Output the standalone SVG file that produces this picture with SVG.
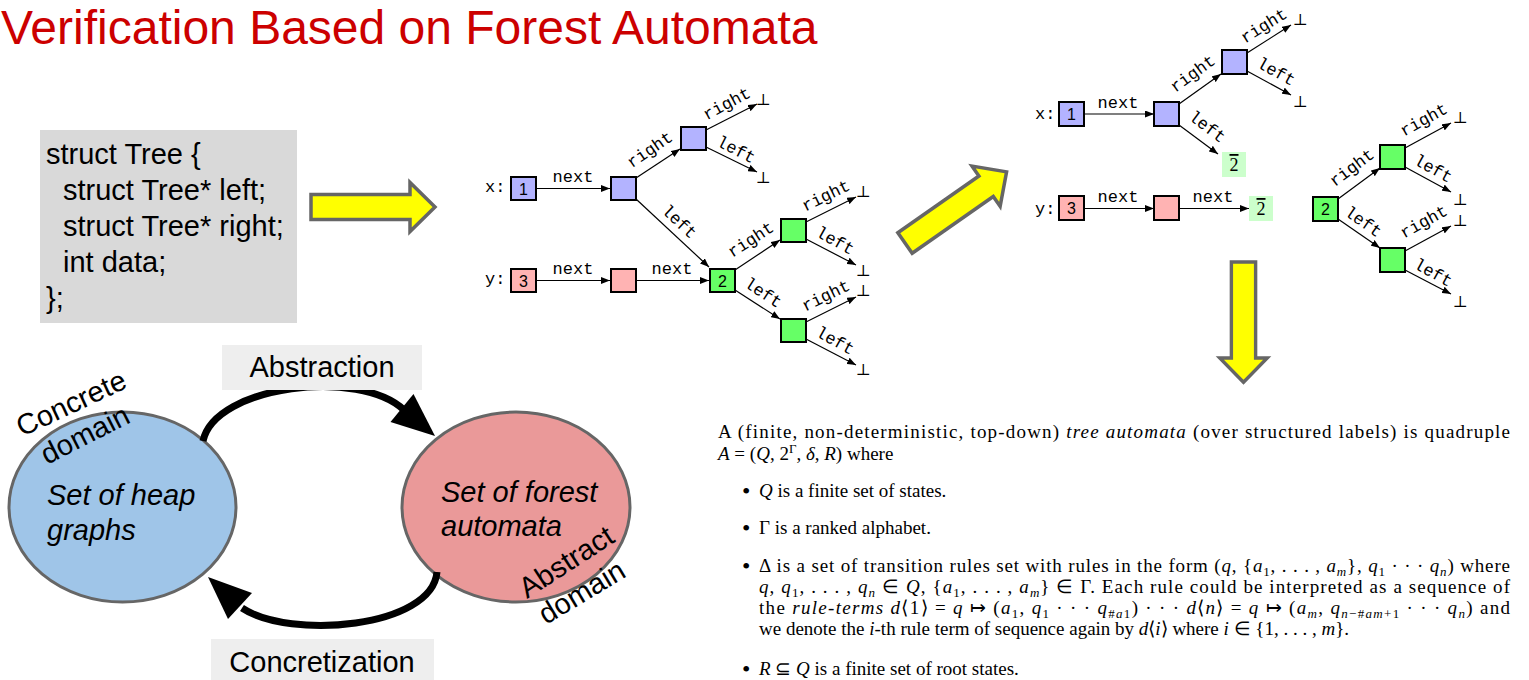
<svg xmlns="http://www.w3.org/2000/svg" width="1529" height="680" viewBox="0 0 1529 680">
  <style>
    .title { font-family: "Liberation Sans", Arial, sans-serif; font-size: 48px; fill: #cc0000; }
    .code { font-family: "Liberation Sans", Arial, sans-serif; font-size: 29px; fill: #000; }
    .fat { fill: #ffff00; stroke: #666666; stroke-width: 3.5; stroke-linejoin: miter; }
    .box { stroke: #000; stroke-width: 2; }
    .blue { fill: #b3b3ff; }
    .pink { fill: #ffb3b3; }
    .green { fill: #66ff66; }
    .lg { fill: #ccffcc; }
    .edge { stroke: #000; stroke-width: 1.2; fill: none; marker-end: url(#ah); }
    .tt { font-family: "Liberation Mono", "DejaVu Sans Mono", monospace; font-size: 17px; fill: #000; }
    .num { font-family: "Liberation Sans", Arial, sans-serif; font-size: 16px; fill: #000; text-anchor: middle; }
    .bar { font-family: "Liberation Serif", "Times New Roman", serif; font-size: 18px; fill: #000; text-anchor: middle; text-decoration: overline; }
    .bot { font-family: "DejaVu Serif", serif; font-size: 16px; fill: #000; text-anchor: middle; }
    .mid { text-anchor: middle; }
    .sans { font-family: "Liberation Sans", Arial, sans-serif; font-size: 29px; fill: #000; }
    .it { font-style: italic; }
    .tag { fill: #eeeeee; }
    .arc { stroke: #000; stroke-width: 7; fill: none; }
    .tex { font-family: "Liberation Serif", "Times New Roman", serif; font-size: 19px; fill: #000; }
    .dot { font-size: 24px; }
    .m { font-style: italic; }
    .sb { font-size: 13px; baseline-shift: -4px; }
    .sp { font-size: 13px; baseline-shift: 7px; }
  </style>
  <defs>
    <marker id="ah" markerUnits="userSpaceOnUse" markerWidth="9" markerHeight="7" refX="9" refY="3.5" orient="auto">
      <path d="M0,0 L9,3.5 L0,7 Z" fill="#000"/>
    </marker>
    <path id="fat" d="M0,-12.5 H99 V-24.5 L124,0 L99,24.5 V12.5 H0 Z"/>
  </defs>

  <!-- heading -->
  <text class="title" x="1" y="44">Verification Based on Forest Automata</text>

  <!-- C structure declaration -->
  <g id="code">
    <rect x="40" y="130" width="257" height="193" fill="#d9d9d9"/>
    <text class="code" x="46" y="164">struct Tree {</text>
    <text class="code" x="63" y="200">struct Tree* left;</text>
    <text class="code" x="63" y="236">struct Tree* right;</text>
    <text class="code" x="63" y="272">int data;</text>
    <text class="code" x="46" y="308">};</text>
  </g>

  <!-- block arrows -->
  <g id="flow">
    <use href="#fat" class="fat" transform="translate(311,207)"/>
    <use href="#fat" class="fat" transform="translate(905,243) rotate(-35)"/>
    <use href="#fat" class="fat" transform="translate(1243.5,262) rotate(90) scale(0.97,0.97)"/>
  </g>

  <!-- heap graph -->
  <g id="heap">
    <text class="tt" x="485" y="192">x:</text>
    <text class="tt" x="485" y="284">y:</text>
    <g id="h-n1"><rect class="box blue" x="511" y="177" width="25" height="23"/><text class="num" x="523.5" y="194.5">1</text></g>
    <g id="h-b1"><rect class="box blue" x="611" y="177" width="25" height="23"/></g>
    <g id="h-b2"><rect class="box blue" x="681" y="127" width="25" height="23"/></g>
    <g id="h-n3"><rect class="box pink" x="511" y="269" width="25" height="23"/><text class="num" x="523.5" y="286.5">3</text></g>
    <g id="h-p1"><rect class="box pink" x="611" y="269" width="25" height="23"/></g>
    <g id="h-n2"><rect class="box green" x="710" y="269" width="25" height="23"/><text class="num" x="722.5" y="286.5">2</text></g>
    <g id="h-g1"><rect class="box green" x="781" y="219" width="25" height="23"/></g>
    <g id="h-g2"><rect class="box green" x="781" y="319" width="25" height="23"/></g>
    <g id="h-nil">
      <text class="bot" x="763" y="105">⊥</text>
      <text class="bot" x="763" y="183">⊥</text>
      <text class="bot" x="863" y="197">⊥</text>
      <text class="bot" x="863" y="276">⊥</text>
      <text class="bot" x="863" y="296">⊥</text>
      <text class="bot" x="863" y="375">⊥</text>
    </g>
  </g>
  <g id="heap-edges">
    <line class="edge" x1="536" y1="188.5" x2="610" y2="188.5"/>
    <text class="tt mid" x="573" y="182">next</text>
    <line class="edge" x1="636" y1="178" x2="680" y2="149"/>
    <text class="tt mid" transform="translate(650,150) rotate(-34.6)" y="5">right</text>
    <line class="edge" x1="636" y1="199" x2="709" y2="267"/>
    <text class="tt mid" transform="translate(679,222) rotate(43)" y="5">left</text>
    <line class="edge" x1="706" y1="130" x2="757" y2="104"/>
    <text class="tt mid" transform="translate(727,104) rotate(-28)" y="5">right</text>
    <line class="edge" x1="706" y1="147" x2="757" y2="172"/>
    <text class="tt mid" transform="translate(736,150) rotate(27)" y="5">left</text>
    <line class="edge" x1="536" y1="280.5" x2="610" y2="280.5"/>
    <text class="tt mid" x="573" y="274">next</text>
    <line class="edge" x1="636" y1="280.5" x2="709" y2="280.5"/>
    <text class="tt mid" x="672" y="274">next</text>
    <line class="edge" x1="735" y1="270" x2="780" y2="240"/>
    <text class="tt mid" transform="translate(751,240) rotate(-33)" y="5">right</text>
    <line class="edge" x1="735" y1="290" x2="780" y2="319"/>
    <text class="tt mid" transform="translate(763,293) rotate(33)" y="5">left</text>
    <line class="edge" x1="806" y1="222" x2="856" y2="197"/>
    <text class="tt mid" transform="translate(826,196) rotate(-26)" y="5">right</text>
    <line class="edge" x1="806" y1="239" x2="856" y2="265"/>
    <text class="tt mid" transform="translate(835,241) rotate(29)" y="5">left</text>
    <line class="edge" x1="806" y1="322" x2="856" y2="297"/>
    <text class="tt mid" transform="translate(826,296) rotate(-26)" y="5">right</text>
    <line class="edge" x1="806" y1="339" x2="856" y2="365"/>
    <text class="tt mid" transform="translate(835,341) rotate(29)" y="5">left</text>
  </g>

  <!-- forest automaton: split into trees -->
  <g id="forest">
    <text class="tt" x="1035" y="119">x:</text>
    <text class="tt" x="1035" y="214">y:</text>
    <g id="f-n1"><rect class="box blue" x="1059" y="102" width="25" height="24"/><text class="num" x="1071.5" y="120">1</text></g>
    <g id="f-b1"><rect class="box blue" x="1154" y="102" width="25" height="24"/></g>
    <g id="f-b2"><rect class="box blue" x="1222" y="50" width="25" height="24"/></g>
    <g id="f-r1"><rect class="lg" x="1222" y="152" width="24" height="25"/><text class="bar" x="1234" y="171">2</text></g>
    <g id="f-n3"><rect class="box pink" x="1059" y="196" width="25" height="24"/><text class="num" x="1071.5" y="214">3</text></g>
    <g id="f-p1"><rect class="box pink" x="1154" y="196" width="25" height="24"/></g>
    <g id="f-r2"><rect class="lg" x="1249" y="196" width="24" height="25"/><text class="bar" x="1261" y="215">2</text></g>
    <g id="f-n2"><rect class="box green" x="1313" y="197" width="25" height="24"/><text class="num" x="1325.5" y="215">2</text></g>
    <g id="f-g1"><rect class="box green" x="1380" y="145" width="25" height="24"/></g>
    <g id="f-g2"><rect class="box green" x="1380" y="248" width="25" height="24"/></g>
    <g id="f-nil">
      <text class="bot" x="1300" y="25">⊥</text>
      <text class="bot" x="1300" y="107">⊥</text>
      <text class="bot" x="1460" y="123">⊥</text>
      <text class="bot" x="1460" y="205">⊥</text>
      <text class="bot" x="1460" y="226">⊥</text>
      <text class="bot" x="1460" y="307">⊥</text>
    </g>
  </g>
  <g id="forest-edges">
    <line class="edge" x1="1084" y1="114" x2="1154" y2="114"/>
    <text class="tt mid" x="1118" y="108">next</text>
    <line class="edge" x1="1179" y1="104" x2="1221" y2="74"/>
    <text class="tt mid" transform="translate(1193,74) rotate(-36)" y="5">right</text>
    <line class="edge" x1="1179" y1="125" x2="1218" y2="154"/>
    <text class="tt mid" transform="translate(1207,127) rotate(37)" y="5">left</text>
    <line class="edge" x1="1247" y1="53" x2="1291" y2="25"/>
    <text class="tt mid" transform="translate(1264,26) rotate(-32)" y="5">right</text>
    <line class="edge" x1="1247" y1="71" x2="1291" y2="95"/>
    <text class="tt mid" transform="translate(1276,72) rotate(29)" y="5">left</text>
    <line class="edge" x1="1084" y1="208.5" x2="1154" y2="208.5"/>
    <text class="tt mid" x="1118" y="202">next</text>
    <line class="edge" x1="1179" y1="208.5" x2="1249" y2="208.5"/>
    <text class="tt mid" x="1213" y="202">next</text>
    <line class="edge" x1="1338" y1="199" x2="1380" y2="168"/>
    <text class="tt mid" transform="translate(1352,168) rotate(-37)" y="5">right</text>
    <line class="edge" x1="1338" y1="219" x2="1380" y2="248"/>
    <text class="tt mid" transform="translate(1363,222) rotate(35)" y="5">left</text>
    <line class="edge" x1="1405" y1="148" x2="1451" y2="123"/>
    <text class="tt mid" transform="translate(1424,120) rotate(-29)" y="5">right</text>
    <line class="edge" x1="1405" y1="167" x2="1451" y2="192"/>
    <text class="tt mid" transform="translate(1433,169) rotate(29)" y="5">left</text>
    <line class="edge" x1="1405" y1="251" x2="1451" y2="226"/>
    <text class="tt mid" transform="translate(1424,222) rotate(-29)" y="5">right</text>
    <line class="edge" x1="1405" y1="270" x2="1451" y2="294"/>
    <text class="tt mid" transform="translate(1433,273) rotate(29)" y="5">left</text>
  </g>

  <!-- abstraction / concretization cycle -->
  <g id="concrete">
    <ellipse cx="122.5" cy="507" rx="113.5" ry="95" fill="#9fc5e8" stroke="#666666" stroke-width="3"/>
    <text class="sans it" x="47" y="505">Set of heap</text>
    <text class="sans it" x="47" y="540">graphs</text>
    <text class="sans" transform="translate(22,437) rotate(-25)">Concrete</text>
    <text class="sans" transform="translate(47,465) rotate(-27)">domain</text>
  </g>
  <g id="abstract">
    <ellipse cx="516" cy="507" rx="114" ry="95" fill="#ea9999" stroke="#666666" stroke-width="3"/>
    <text class="sans it" x="441" y="502">Set of forest</text>
    <text class="sans it" x="441" y="536">automata</text>
    <text class="sans" transform="translate(527,599) rotate(-33)">Abstract</text>
    <text class="sans" transform="translate(546,625) rotate(-31)">domain</text>
  </g>
  <g id="cycle-edges">
    <path class="arc" d="M203,441 C215,385 360,368 404,410"/>
    <polygon points="435,436 390.5,422 413.5,394" fill="#000"/>
    <path class="arc" d="M437,572 C432,628 290,640 242,608"/>
    <polygon points="208,577 252,593 228,619" fill="#000"/>
    <g id="abstraction">
      <rect class="tag" x="222" y="345" width="200" height="45"/>
      <text class="sans mid" x="322" y="377">Abstraction</text>
    </g>
    <g id="concretization">
      <rect class="tag" x="211" y="639" width="223" height="45"/>
      <text class="sans mid" x="322" y="672">Concretization</text>
    </g>
  </g>

  <!-- definition text -->
  <g id="definition" class="tex">
    <text x="718" y="438" textLength="792">A (finite, non-deterministic, top-down) <tspan class="m">tree automata</tspan> (over structured labels) is quadruple</text>
    <text x="718" y="460"><tspan class="m">A</tspan> = (<tspan class="m">Q</tspan>, 2<tspan class="sp">Γ</tspan>, <tspan class="m">δ</tspan>, <tspan class="m">R</tspan>) where</text>
    <text class="dot" x="742" y="499">•</text>
    <text x="759" y="497"><tspan class="m">Q</tspan> is a finite set of states.</text>
    <text class="dot" x="742" y="536">•</text>
    <text x="759" y="534">Γ is a ranked alphabet.</text>
    <text class="dot" x="742" y="574">•</text>
    <text x="759" y="572" textLength="751">Δ is a set of transition rules set with rules in the form (<tspan class="m">q</tspan>, {<tspan class="m">a</tspan><tspan class="sb">1</tspan>, . . . , <tspan class="m">a</tspan><tspan class="sb m">m</tspan>}, <tspan class="m">q</tspan><tspan class="sb">1</tspan> · · · <tspan class="m">q</tspan><tspan class="sb m">n</tspan>) where</text>
    <text x="759" y="593" textLength="751"><tspan class="m">q</tspan>, <tspan class="m">q</tspan><tspan class="sb">1</tspan>, . . . , <tspan class="m">q</tspan><tspan class="sb m">n</tspan> ∈ <tspan class="m">Q</tspan>, {<tspan class="m">a</tspan><tspan class="sb">1</tspan>, . . . , <tspan class="m">a</tspan><tspan class="sb m">m</tspan>} ∈ Γ.  Each rule could be interpreted as a sequence of</text>
    <text x="759" y="614" textLength="751">the <tspan class="m">rule-terms d</tspan>⟨1⟩ = <tspan class="m">q</tspan> ↦ (<tspan class="m">a</tspan><tspan class="sb">1</tspan>, <tspan class="m">q</tspan><tspan class="sb">1</tspan> · · · <tspan class="m">q</tspan><tspan class="sb">#<tspan class="m">a</tspan>1</tspan>) · · · <tspan class="m">d</tspan>⟨<tspan class="m">n</tspan>⟩ = <tspan class="m">q</tspan> ↦ (<tspan class="m">a</tspan><tspan class="sb m">m</tspan>, <tspan class="m">q</tspan><tspan class="sb"><tspan class="m">n</tspan>−#<tspan class="m">a</tspan><tspan class="m">m</tspan>+1</tspan> · · · <tspan class="m">q</tspan><tspan class="sb m">n</tspan>) and</text>
    <text x="759" y="635">we denote the <tspan class="m">i</tspan>-th rule term of sequence again by <tspan class="m">d</tspan>⟨<tspan class="m">i</tspan>⟩ where <tspan class="m">i</tspan> ∈ {1, . . . , <tspan class="m">m</tspan>}.</text>
    <text class="dot" x="742" y="677">•</text>
    <text x="759" y="675"><tspan class="m">R</tspan> ⊆ <tspan class="m">Q</tspan> is a finite set of root states.</text>
  </g>
</svg>
